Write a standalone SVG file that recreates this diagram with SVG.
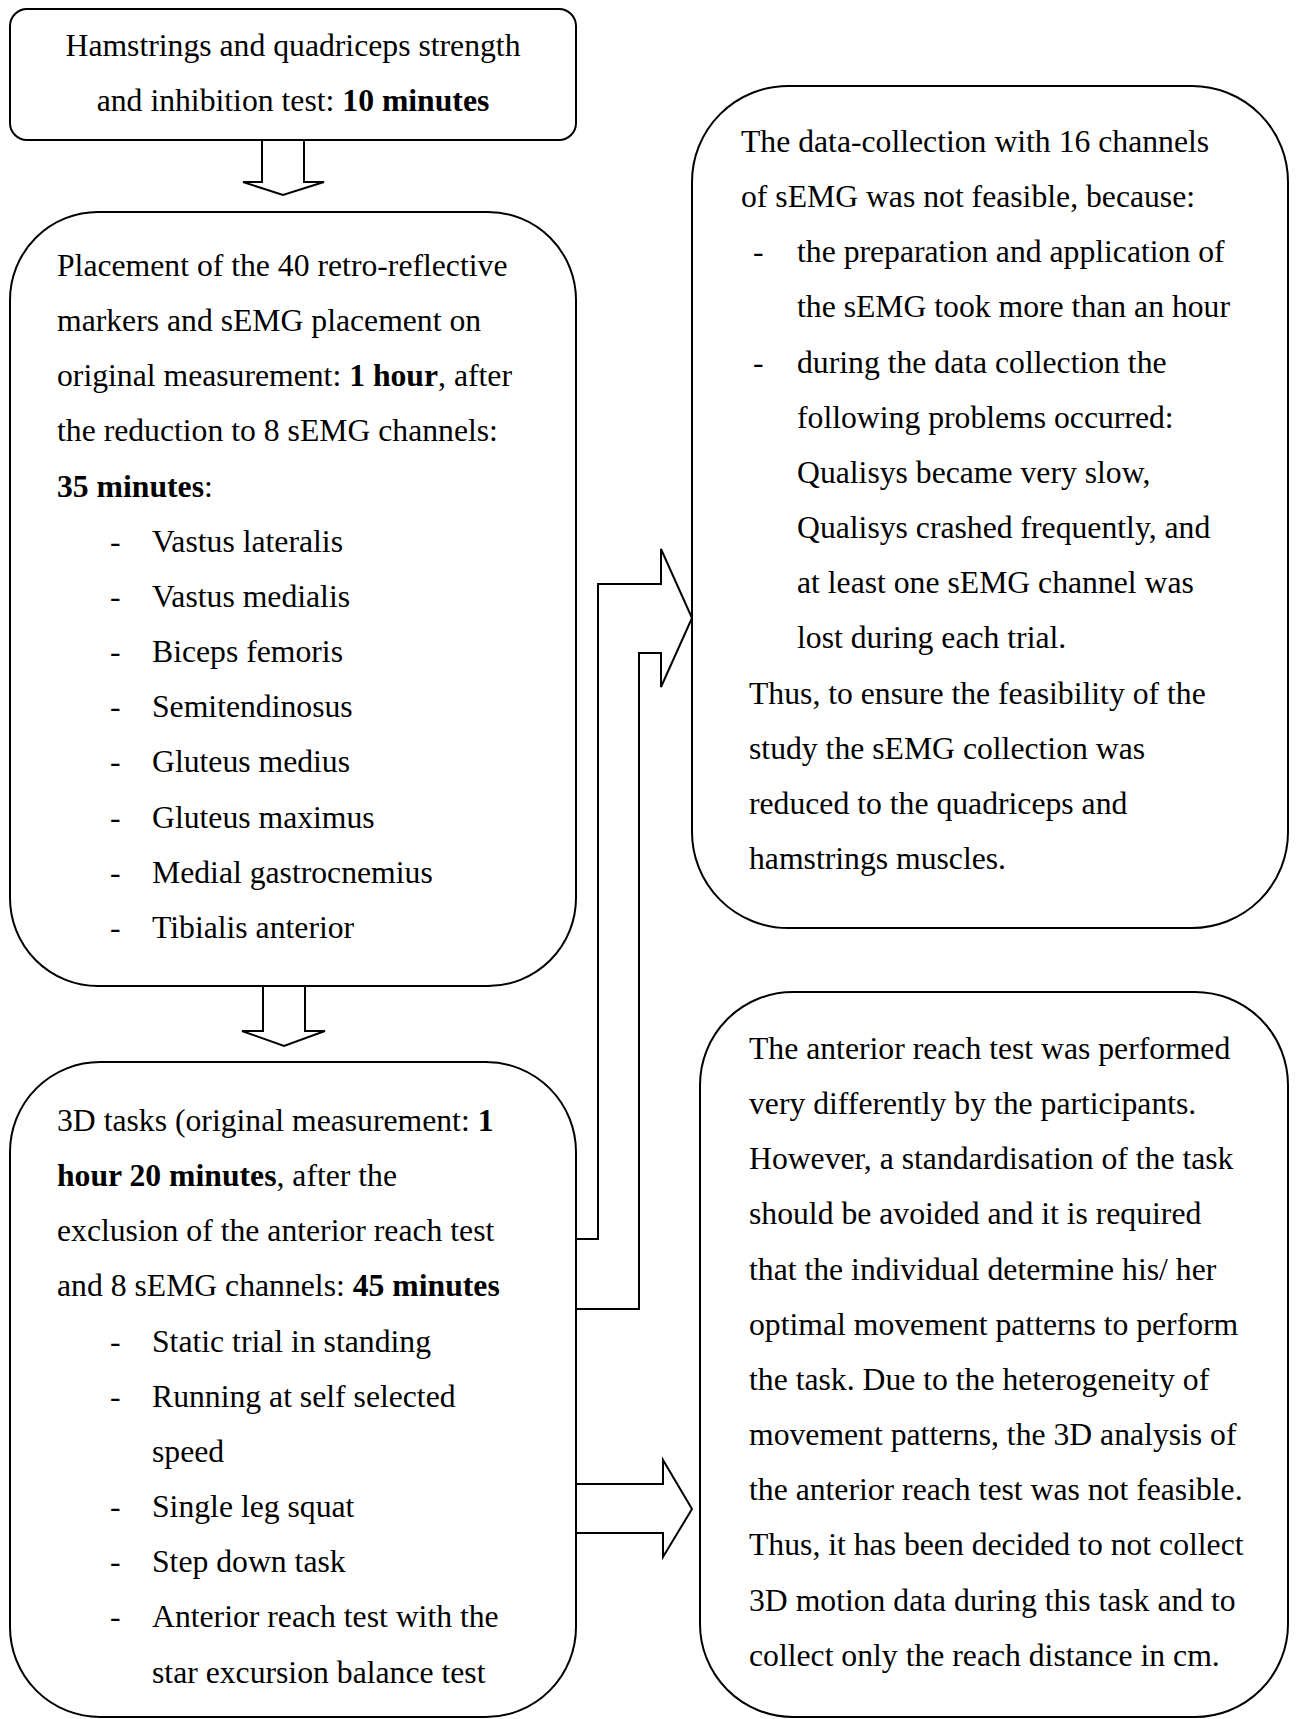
<svg xmlns="http://www.w3.org/2000/svg" width="1296" height="1719" viewBox="0 0 1296 1719">
<style>
  .box { fill: #fff; stroke: #000; stroke-width: 2; }
  .conn { fill: #fff; stroke: #000; stroke-width: 2; stroke-linejoin: miter; }
  text { font-family: "Liberation Serif", "Times New Roman", serif; font-size: 31.7px; fill: #000; }
  .b { font-weight: bold; }
  .c { text-anchor: middle; }
</style>
<rect width="1296" height="1719" fill="#fff"/>

<g id="connectors">
  <path class="conn" d="M262,140 V182 H243 L283,195 L324,182 H304 V140"/>
  <path class="conn" d="M263,986 V1031 H242 L284,1046 L325,1031 H305 V986"/>
  <path class="conn" d="M576,1239 H598 V584 H661 V549 L692,618 L661,687 V653 H639 V1309 H576"/>
  <path class="conn" d="M576,1484 H663 V1460 L692,1509 L663,1557 V1533 H576"/>
</g>

<g id="node1">
  <rect class="box" x="10" y="9" width="566" height="131" rx="17" ry="17"/>
  <text class="c" x="293" y="56">Hamstrings and quadriceps strength</text>
  <text class="c" x="293" y="111">and inhibition test: <tspan class="b">10 minutes</tspan></text>
</g>

<g id="node2">
  <rect class="box" x="10" y="212" width="566" height="774" rx="88" ry="88"/>
  <text x="57" y="276">Placement of the 40 retro-reflective</text>
  <text x="57" y="331">markers and sEMG placement on</text>
  <text x="57" y="386">original measurement: <tspan class="b">1 hour</tspan>, after</text>
  <text x="57" y="441">the reduction to 8 sEMG channels:</text>
  <text x="57" y="497"><tspan class="b">35 minutes</tspan>:</text>
  <text x="110" y="552">-</text><text x="152" y="552">Vastus lateralis</text>
  <text x="110" y="607">-</text><text x="152" y="607">Vastus medialis</text>
  <text x="110" y="662">-</text><text x="152" y="662">Biceps femoris</text>
  <text x="110" y="717">-</text><text x="152" y="717">Semitendinosus</text>
  <text x="110" y="772">-</text><text x="152" y="772">Gluteus medius</text>
  <text x="110" y="828">-</text><text x="152" y="828">Gluteus maximus</text>
  <text x="110" y="883">-</text><text x="152" y="883">Medial gastrocnemius</text>
  <text x="110" y="938">-</text><text x="152" y="938">Tibialis anterior</text>
</g>

<g id="node3">
  <rect class="box" x="10" y="1062" width="566" height="655" rx="90" ry="90"/>
  <text x="57" y="1131">3D tasks (original measurement: <tspan class="b">1</tspan></text>
  <text x="57" y="1186"><tspan class="b">hour 20 minutes</tspan>, after the</text>
  <text x="57" y="1241">exclusion of the anterior reach test</text>
  <text x="57" y="1296">and 8 sEMG channels: <tspan class="b">45 minutes</tspan></text>
  <text x="110" y="1352">-</text><text x="152" y="1352">Static trial in standing</text>
  <text x="110" y="1407">-</text><text x="152" y="1407">Running at self selected</text>
  <text x="152" y="1462">speed</text>
  <text x="110" y="1517">-</text><text x="152" y="1517">Single leg squat</text>
  <text x="110" y="1572">-</text><text x="152" y="1572">Step down task</text>
  <text x="110" y="1627">-</text><text x="152" y="1627">Anterior reach test with the</text>
  <text x="152" y="1683">star excursion balance test</text>
</g>

<g id="node4">
  <rect class="box" x="692" y="86" width="596" height="842" rx="96" ry="96"/>
  <text x="741" y="152">The data-collection with 16 channels</text>
  <text x="741" y="207">of sEMG was not feasible, because:</text>
  <text x="753" y="262">-</text><text x="797" y="262">the preparation and application of</text>
  <text x="797" y="317">the sEMG took more than an hour</text>
  <text x="753" y="373">-</text><text x="797" y="373">during the data collection the</text>
  <text x="797" y="428">following problems occurred:</text>
  <text x="797" y="483">Qualisys became very slow,</text>
  <text x="797" y="538">Qualisys crashed frequently, and</text>
  <text x="797" y="593">at least one sEMG channel was</text>
  <text x="797" y="648">lost during each trial.</text>
  <text x="749" y="704">Thus, to ensure the feasibility of the</text>
  <text x="749" y="759">study the sEMG collection was</text>
  <text x="749" y="814">reduced to the quadriceps and</text>
  <text x="749" y="869">hamstrings muscles.</text>
</g>

<g id="node5">
  <rect class="box" x="700" y="992" width="588" height="725" rx="93" ry="93"/>
  <text x="749" y="1059">The anterior reach test was performed</text>
  <text x="749" y="1114">very differently by the participants.</text>
  <text x="749" y="1169">However, a standardisation of the task</text>
  <text x="749" y="1224">should be avoided and it is required</text>
  <text x="749" y="1280">that the individual determine his/ her</text>
  <text x="749" y="1335">optimal movement patterns to perform</text>
  <text x="749" y="1390">the task. Due to the heterogeneity of</text>
  <text x="749" y="1445">movement patterns, the 3D analysis of</text>
  <text x="749" y="1500">the anterior reach test was not feasible.</text>
  <text x="749" y="1555">Thus, it has been decided to not collect</text>
  <text x="749" y="1611">3D motion data during this task and to</text>
  <text x="749" y="1666">collect only the reach distance in cm.</text>
</g>
</svg>
